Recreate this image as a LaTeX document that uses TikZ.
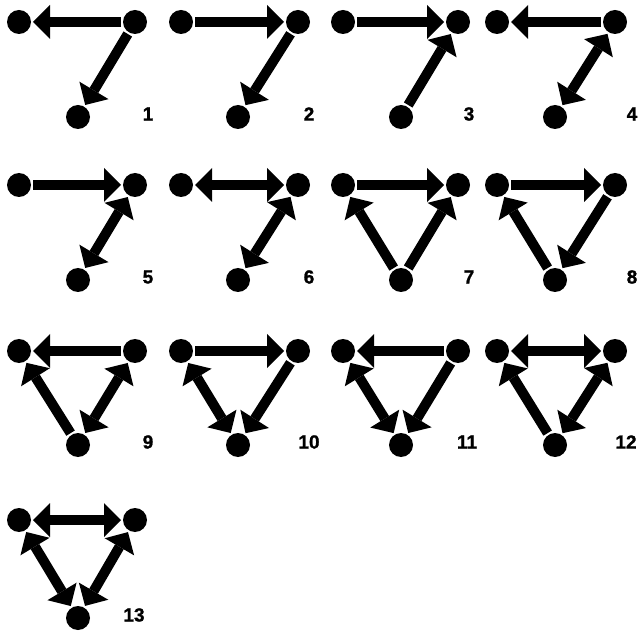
\documentclass[tikz,border=0pt]{standalone}
\usepackage{fontspec}
\setmainfont{Liberation Sans}
\newfontfamily\lblfont[BoldFeatures={FakeBold=1.2}]{Liberation Sans}
\usetikzlibrary{arrows.meta}
\newcommand{\mktriad}[8]{%
  \node[vtx] (#1L) at (#2,#5) {};
  \node[vtx] (#1R) at (#3,#5) {};
  \node[vtx] (#1B) at (#4,#6) {};
  \node[lbl] (#1N) at (#8,#6-3) {#7};
}
\begin{document}
\begin{tikzpicture}[x=1pt,y=-1pt,
  vtx/.style={circle,fill=black,minimum size=24pt,inner sep=0pt,outer sep=2pt},
  lbl/.style={font=\lblfont\fontsize{19}{19}\selectfont\bfseries,inner sep=0pt},
  tri/.tip={Triangle[length=17pt,width=34pt,line width=0pt]},
  edg/.style={line width=10pt,-tri},
  bi/.style={line width=10pt,tri-tri}]
\useasboundingbox (0,0) rectangle (640,636);
% row 1
\mktriad{p1}{19}{135}{78}{22}{117}{1}{148}
\mktriad{p2}{181}{298}{238}{22}{117}{2}{309}
\mktriad{p3}{343}{458}{401}{22}{117}{3}{469}
\mktriad{p4}{497}{615}{555}{22}{117}{4}{632}
% row 2
\mktriad{p5}{19}{135}{78}{185}{280}{5}{148}
\mktriad{p6}{181}{298}{238}{185}{280}{6}{309}
\mktriad{p7}{343}{458}{401}{185}{280}{7}{469}
\mktriad{p8}{497}{615}{555}{185}{280}{8}{632}
% row 3
\mktriad{p9}{19}{135}{78}{351}{445}{9}{148}
\mktriad{p10}{181}{298}{238}{351}{445}{10}{309}
\mktriad{p11}{343}{458}{401}{351}{445}{11}{467}
\mktriad{p12}{497}{615}{555}{351}{445}{12}{626}
% row 4
\mktriad{p13}{19}{135}{78}{520}{618}{13}{134}
% edges
\draw[edg] (p1R) -- (p1L);
\draw[edg] (p1R) -- (p1B);
\draw[edg] (p2L) -- (p2R);
\draw[edg] (p2R) -- (p2B);
\draw[edg] (p3L) -- (p3R);
\draw[edg] (p3B) -- (p3R);
\draw[edg] (p4R) -- (p4L);
\draw[bi] (p4R) -- (p4B);
\draw[edg] (p5L) -- (p5R);
\draw[bi] (p5R) -- (p5B);
\draw[bi] (p6L) -- (p6R);
\draw[bi] (p6R) -- (p6B);
\draw[edg] (p7L) -- (p7R);
\draw[edg] (p7B) -- (p7L);
\draw[edg] (p7B) -- (p7R);
\draw[edg] (p8L) -- (p8R);
\draw[edg] (p8R) -- (p8B);
\draw[edg] (p8B) -- (p8L);
\draw[edg] (p9R) -- (p9L);
\draw[edg] (p9B) -- (p9L);
\draw[bi] (p9R) -- (p9B);
\draw[edg] (p10L) -- (p10R);
\draw[bi] (p10L) -- (p10B);
\draw[edg] (p10R) -- (p10B);
\draw[edg] (p11R) -- (p11L);
\draw[bi] (p11L) -- (p11B);
\draw[edg] (p11R) -- (p11B);
\draw[bi] (p12L) -- (p12R);
\draw[edg] (p12B) -- (p12L);
\draw[bi] (p12R) -- (p12B);
\draw[bi] (p13L) -- (p13R);
\draw[bi] (p13L) -- (p13B);
\draw[bi] (p13R) -- (p13B);
\end{tikzpicture}
\end{document}
